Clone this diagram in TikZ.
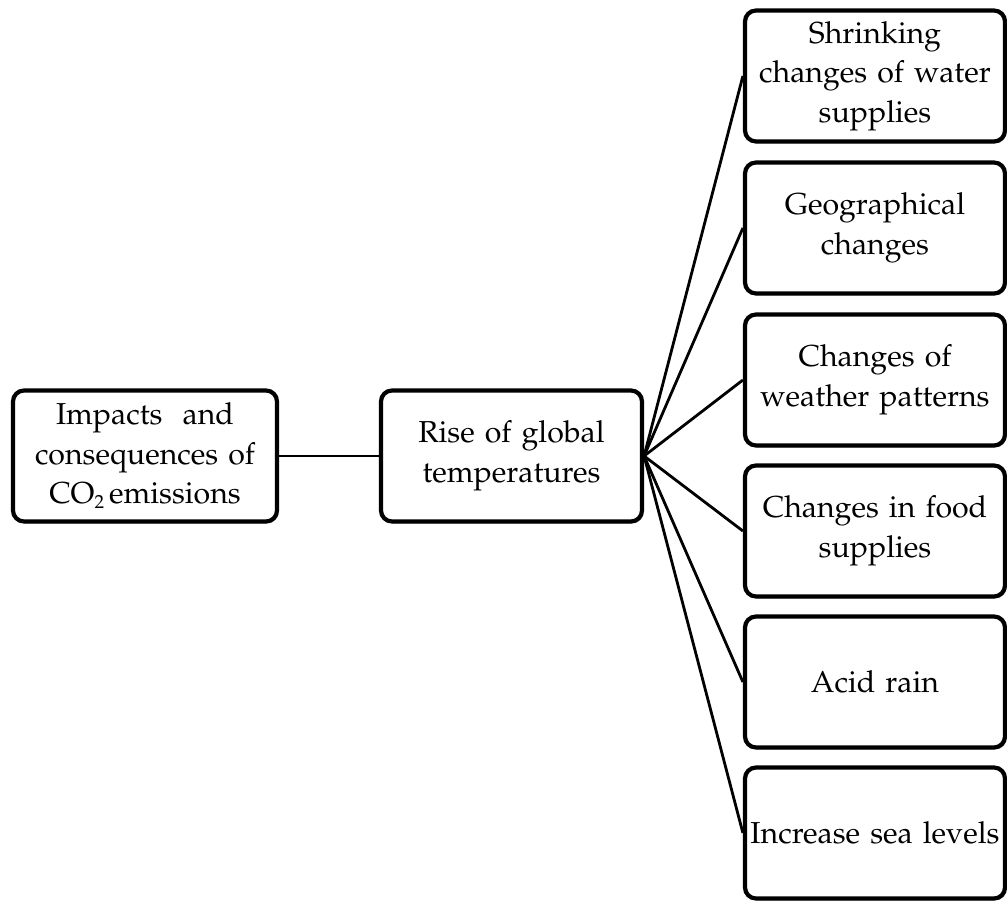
\documentclass[tikz,border=0pt]{standalone}
\usepackage[T1]{fontenc}
\usepackage{mathpazo}
\usetikzlibrary{shadows}
\begin{document}
\begin{tikzpicture}[x=1pt,y=-1pt,
  box/.style={draw=black, line width=4.2pt, rounded corners=11pt, fill=white,
    minimum height=131pt, align=center, inner sep=2pt,
    font=\fontsize{30.3}{39.5}\selectfont,
    drop shadow={shadow xshift=1.5pt, shadow yshift=-2pt, opacity=0.25, fill=black}},
  lbox/.style={box, minimum width=264pt, text width=250pt},
  rbox/.style={box, minimum width=258pt, text width=256pt},
  conn/.style={draw=black, line width=2.8pt}]
\useasboundingbox (0,0) rectangle (1007,901);
\node[lbox] (imp) at (145,456) {Impacts~ and\\consequences of\\CO\raisebox{-0.35ex}{\fontsize{19}{19}\selectfont 2}\,emissions};
\node[lbox, minimum width=261pt] (rise) at (511.5,456) {Rise of global\\temperatures};
\node[rbox] (r1) at (875,76) {Shrinking\\changes of water\\supplies};
\node[rbox] (r2) at (875,228) {Geographical\\changes};
\node[rbox] (r3) at (875,380) {Changes of\\weather patterns};
\node[rbox] (r4) at (875,531) {Changes in food\\supplies};
\node[rbox] (r5) at (875,682) {Acid rain};
\node[rbox] (r6) at (875,833) {Increase sea levels};
\draw[conn] (imp.east) -- (rise.west);
\foreach \r in {r1,r2,r3,r4,r5,r6}{
  \draw[conn] (rise.east) -- (\r.west);
}
\end{tikzpicture}
\end{document}
